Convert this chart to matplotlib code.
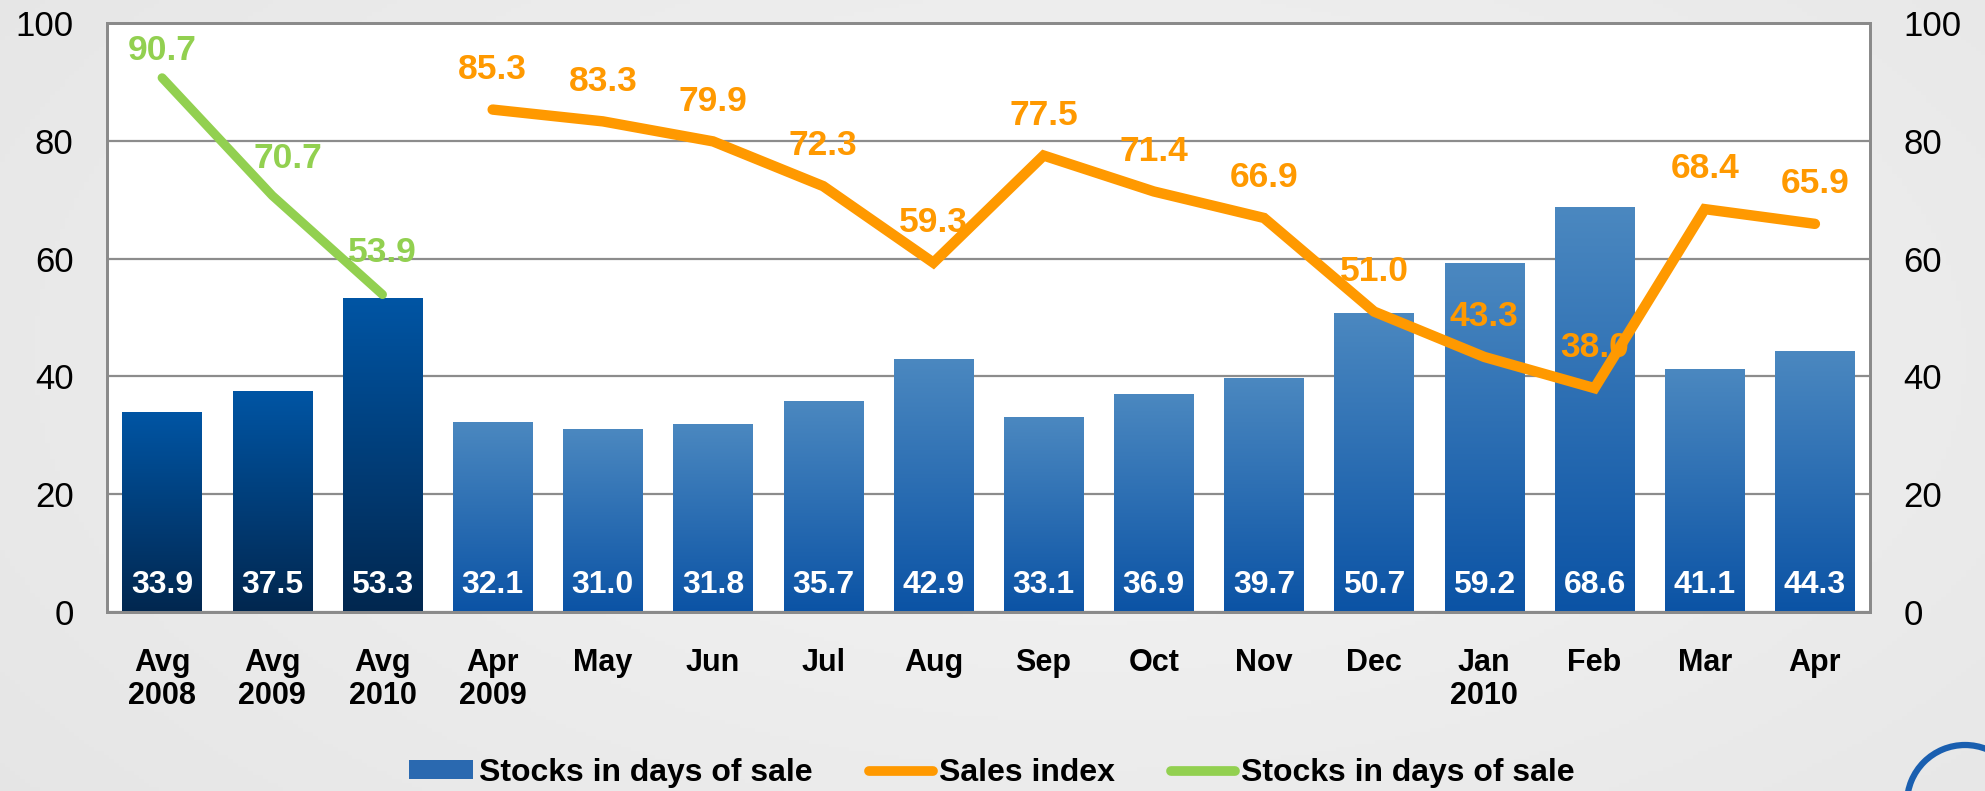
import numpy as np
import matplotlib
matplotlib.use('Agg')
import matplotlib.pyplot as plt
from matplotlib.colors import LinearSegmentedColormap
from matplotlib.patches import Arc, Patch
from matplotlib.lines import Line2D

# ---------------- data ----------------
categories = ["Avg\n2008", "Avg\n2009", "Avg\n2010", "Apr\n2009", "May", "Jun", "Jul",
              "Aug", "Sep", "Oct", "Nov", "Dec", "Jan\n2010", "Feb", "Mar", "Apr"]
stocks_days = [33.9, 37.5, 53.3, 32.1, 31.0, 31.8, 35.7, 42.9, 33.1, 36.9, 39.7,
               50.7, 59.2, 68.6, 41.1, 44.3]
sales_index = [85.3, 83.3, 79.9, 72.3, 59.3, 77.5, 71.4, 66.9, 51.0, 43.3, 38.0, 68.4, 65.9]
stocks_avg = [90.7, 70.7, 53.9]
yticks = [0, 20, 40, 60, 80, 100]
legend_labels = ["Stocks in days of sale", "Sales index", "Stocks in days of sale"]

plt.rcParams['font.family'] = ['Liberation Sans', 'DejaVu Sans']

W, H = 1985, 791
fig = plt.figure(figsize=(W / 100, H / 100), dpi=100)

# background gradient
bg = fig.add_axes([0, 0, 1, 1], zorder=-10)
yy, xx = np.mgrid[0:1:200j, 0:1:400j]
r = np.sqrt(((xx - 0.55) * 1.2) ** 2 + ((yy - 0.45) * 0.9) ** 2)
bgimg = 0.955 - 0.07 * np.clip(r, 0, 1)
bg.imshow(bgimg, cmap='gray', vmin=0, vmax=1, aspect='auto', extent=[0, 1, 0, 1])
bg.set_axis_off()

# logo (partial ring)
logo = Arc((1965 / W, 1 - 803 / H), 2 * 58 / W, 2 * 58 / H, theta1=0, theta2=360,
           transform=fig.transFigure, color='#1a5fb0', lw=4.5)
fig.add_artist(logo)

ax = fig.add_axes([107 / W, 1 - 612 / H, 1763 / W, 589 / H])
ax.set_facecolor('white')
x = np.arange(len(categories))

bars = ax.bar(x, stocks_days, width=0.72, color='none', zorder=2)
dark_cmap = LinearSegmentedColormap.from_list('dark', ['#02274f', '#0055a4'])
light_cmap = LinearSegmentedColormap.from_list('light', ['#0b53a5', '#4b88c0'])
grad = np.linspace(1, 0, 256).reshape(-1, 1)
for i, rect in enumerate(bars.patches):
    x0, w, h = rect.get_x(), rect.get_width(), rect.get_height()
    cm = dark_cmap if i < 3 else light_cmap
    ax.imshow(grad, cmap=cm, vmin=0, vmax=1, extent=[x0, x0 + w, 0, h],
              aspect='auto', zorder=2, interpolation='bilinear')
    ax.text(rect.get_x() + w / 2, 4.6, f"{stocks_days[i]:.1f}", ha='center', va='center',
            color='white', fontsize=23, fontweight='bold', zorder=3)

ax.set_xlim(-0.5, len(categories) - 0.5)
ax.set_ylim(0, 100)
ax.set_yticks(yticks)
ax.set_xticks(x, categories, fontsize=22, fontweight='bold', linespacing=1.12)
ax.tick_params(axis='y', labelsize=25, length=0, pad=24)
ax.tick_params(axis='x', length=0, pad=26)
ax.yaxis.grid(True, color='#8c8c8c', lw=1.6)
ax.set_axisbelow(True)
for s in ax.spines.values():
    s.set_color('#8a8a8a')
    s.set_linewidth(2.0)

ax2 = ax.twinx()
ax2.set_ylim(0, 100)
ax2.set_yticks(yticks)
ax2.tick_params(axis='y', labelsize=25, length=0, pad=24)
for s in ax2.spines.values():
    s.set_color('#8a8a8a')
    s.set_linewidth(2.0)

orange = '#ff9900'
green = '#92d050'
xs = x[3:]
xg = x[:3]
ax2.plot(xs, sales_index, color=orange, lw=7.5, solid_capstyle='round',
         solid_joinstyle='miter', zorder=4)
ax2.plot(xg, stocks_avg, color=green, lw=6.5, solid_capstyle='round',
         solid_joinstyle='miter', zorder=4)

for xi, v in zip(xs, sales_index):
    ax2.annotate(f"{v:.1f}", (xi, v), xytext=(0, 29), textcoords='offset points',
                 ha='center', va='center', color=orange, fontsize=25.5, fontweight='bold', zorder=5)
g_offsets = [(0, 19.5), (11, 27), (0, 30)]
for xi, v, off in zip(xg, stocks_avg, g_offsets):
    ax2.annotate(f"{v:.1f}", (xi, v), xytext=off, textcoords='offset points',
                 ha='center', va='center', color=green, fontsize=25.5, fontweight='bold', zorder=5)

handles = [Patch(facecolor='#2a69b0', edgecolor='none'),
           Line2D([], [], color=orange, lw=7, solid_capstyle='round'),
           Line2D([], [], color=green, lw=7, solid_capstyle='round')]
fig.legend(handles, legend_labels, loc='center', bbox_to_anchor=(0.4997, 0.0228),
           ncol=3, frameon=False, prop=dict(weight='bold', size=23),
           handlelength=2.0, handletextpad=0.2, columnspacing=1.75, handleheight=0.55,
           borderpad=0, borderaxespad=0)

fig.savefig('out.png', dpi=100)
